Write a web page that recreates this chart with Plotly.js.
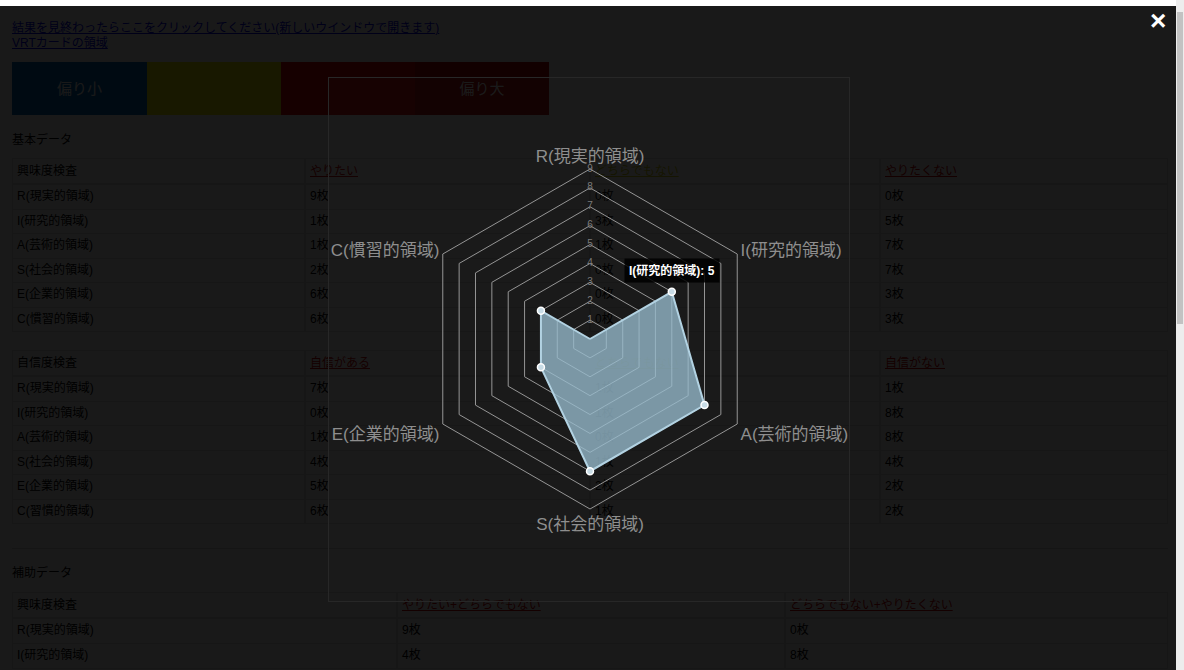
<!DOCTYPE html>
<html><head><meta charset="utf-8">
<script src="https://cdn.plot.ly/plotly-3.0.1.min.js"></script>
<style>
body{margin:0;width:1184px;height:670px;overflow:hidden;background:#fff;position:relative;font-family:"Liberation Sans","Noto Sans CJK JP",sans-serif;}
#page{position:absolute;left:0;top:0;width:1176px;height:670px;background:#fff;font-size:12px;color:#000;}
.abs{position:absolute;white-space:nowrap;}
.lnk{color:#0000ee;text-decoration:underline;}
.hl{color:#cc0000;text-decoration:underline;}
.hy{color:#c8c800;text-decoration:underline;}
.cell{position:absolute;box-sizing:border-box;border:1px solid #e2e2e2;padding-left:4px;line-height:23px;white-space:nowrap;}
#overlay{position:absolute;left:0;top:6px;width:1176px;height:664px;background:rgba(0,0,0,0.9);}
#modal{position:absolute;left:328px;top:77px;width:522px;height:525px;box-sizing:border-box;border:1px solid #272727;background:rgba(255,255,255,0.008);}
#close{position:absolute;left:1150px;top:6px;color:#fff;font-weight:bold;font-size:28px;line-height:30px;}
#sb{position:absolute;left:1176px;top:0;width:8px;height:670px;background:#ededed;}
#thumb{position:absolute;left:1177px;top:12px;width:6px;height:312px;background:#c2c2c2;}
#chart{position:absolute;left:0;top:0;width:1184px;height:670px;}
</style></head>
<body>
<div id="page">
  <div class="abs lnk" style="left:12px;top:18px;">結果を見終わったらここをクリックしてください(新しいウインドウで開きます)</div>
  <div class="abs lnk" style="left:12px;top:33px;">VRTカードの領域</div>
  <div class="abs" style="left:12px;top:62px;width:135px;height:53px;background:#0068b8;color:#fff;font-size:15px;line-height:53px;text-align:center;">偏り小</div>
  <div class="abs" style="left:147px;top:62px;width:134px;height:53px;background:#f0f000;"></div>
  <div class="abs" style="left:281px;top:62px;width:134px;height:53px;background:#e00000;"></div>
  <div class="abs" style="left:415px;top:62px;width:134px;height:53px;background:#b40000;color:#fff;font-size:15px;line-height:53px;text-align:center;">偏り大</div>
  <div class="abs" style="left:12px;top:130px;">基本データ</div>
  <div id="t1"></div>
  <div id="t2"></div>
  <div class="abs" style="left:12px;top:548px;width:1156px;height:1px;background:#cfcfcf;"></div>
  <div class="abs" style="left:12px;top:563px;">補助データ</div>
  <div id="t3"></div>
</div>
<div id="overlay"></div>
<div id="modal"></div>
<div id="close">×</div>
<div id="sb"></div><div id="thumb"></div>
<div id="chart"></div>
<script>
// ---- chart data ----
const categories = ['R(現実的領域)','I(研究的領域)','A(芸術的領域)','S(社会的領域)','E(企業的領域)','C(慣習的領域)'];
const values = [0, 5, 7, 7, 3, 3];
const radialTicks = [1, 2, 3, 4, 5, 6, 7, 8, 9];
const radialMax = 9;
const tooltipIndex = 1;

// ---- background page table data ----
const interestHead = ['興味度検査', 'やりたい', 'どちらでもない', 'やりたくない'];
const interestRows = ['R(現実的領域)','I(研究的領域)','A(芸術的領域)','S(社会的領域)','E(企業的領域)','C(慣習的領域)'];
const wantCounts = [9, 1, 1, 2, 6, 6];
const neutralCounts = [0, 3, 1, 0, 0, 0];
const notWantCounts = [0, 5, 7, 7, 3, 3];
const confHead = ['自信度検査', '自信がある', 'どちらでもない', '自信がない'];
const confRows = ['R(現実的領域)','I(研究的領域)','A(芸術的領域)','S(社会的領域)','E(企業的領域)','C(習慣的領域)'];
const confCounts = [7, 0, 1, 4, 5, 6];
const confNeutral = [1, 1, 0, 1, 2, 1];
const noConfCounts = [1, 8, 8, 4, 2, 2];
const auxHead = ['興味度検査', 'やりたい+どちらでもない', 'どちらでもない+やりたくない'];
const auxRows = ['R(現実的領域)', 'I(研究的領域)'];
const auxA = [9, 4];
const auxB = [0, 8];

function buildTable(id, top, cols, head, headCls, rows, rowH) {
  const el = document.getElementById(id);
  let html = '';
  const hH = 26;
  for (let c = 0; c < head.length; c++) {
    const w = cols[c + 1] - cols[c];
    html += '<div class="cell" style="left:' + cols[c] + 'px;top:' + top + 'px;width:' + w + 'px;height:' + hH + 'px;line-height:25px;"><span class="' + headCls[c] + '">' + head[c] + '</span></div>';
  }
  for (let r = 0; r < rows.length; r++) {
    const y = top + hH + r * rowH;
    for (let c = 0; c < rows[r].length; c++) {
      const w = cols[c + 1] - cols[c];
      html += '<div class="cell" style="left:' + cols[c] + 'px;top:' + y + 'px;width:' + w + 'px;height:' + (rowH + 1) + 'px;">' + rows[r][c] + '</div>';
    }
  }
  el.innerHTML = html;
}
const cols4 = [12, 305, 590, 880, 1168];
buildTable('t1', 158, cols4, interestHead, ['', 'hl', 'hy', 'hl'],
  interestRows.map((l, i) => [l, wantCounts[i] + '枚', neutralCounts[i] + '枚', notWantCounts[i] + '枚']), 24.5);
buildTable('t2', 350, cols4, confHead, ['', 'hl', 'hy', 'hl'],
  confRows.map((l, i) => [l, confCounts[i] + '枚', confNeutral[i] + '枚', noConfCounts[i] + '枚']), 24.5);
buildTable('t3', 592, [12, 397, 785, 1168], auxHead, ['', 'hl', 'hl'],
  auxRows.map((l, i) => [l, auxA[i] + '枚', auxB[i] + '枚']), 25);

// ---- radar chart ----
const W = 1184, H = 670;
const cx = 590, cy = 339, R = 170;
const font = 'Liberation Sans, Noto Sans CJK JP, sans-serif';

const trace = {
  type: 'scatterpolar',
  r: values.concat([values[0]]),
  theta: categories.concat([categories[0]]),
  mode: 'lines+markers',
  fill: 'toself',
  fillcolor: 'rgba(151,187,205,0.78)',
  line: {color: 'rgba(178,210,226,1)', width: 2},
  marker: {size: 7, color: 'rgba(200,220,230,1)', line: {color: '#ffffff', width: 1.5}},
  hoverinfo: 'skip'
};
const tickTrace = {
  type: 'scatterpolar',
  r: radialTicks,
  theta: radialTicks.map(() => categories[0]),
  mode: 'text',
  text: radialTicks.map(String),
  textposition: 'middle center',
  textfont: {size: 10, color: '#7c7c7c', family: font},
  hoverinfo: 'skip'
};

// tooltip anchored at the data point (computed from the value through the same polar geometry)
const ang = (90 - tooltipIndex * 360 / categories.length) * Math.PI / 180;
const rp = values[tooltipIndex] / radialMax * R;
const tx = (cx + rp * Math.cos(ang)) / W;
const ty = (H - (cy - rp * Math.sin(ang))) / H;

const layout = {
  width: W, height: H,
  margin: {l: 0, r: 0, t: 0, b: 0},
  paper_bgcolor: 'rgba(0,0,0,0)',
  plot_bgcolor: 'rgba(0,0,0,0)',
  showlegend: false,
  font: {family: font},
  polar: {
    domain: {x: [(cx - R) / W, (cx + R) / W], y: [(H - cy - R) / H, (H - cy + R) / H]},
    bgcolor: 'rgba(0,0,0,0)',
    gridshape: 'linear',
    radialaxis: {
      range: [0, radialMax], tickvals: radialTicks, showticklabels: false, ticks: '',
      showline: false, gridcolor: '#959595', gridwidth: 1, angle: 90
    },
    angularaxis: {
      rotation: 90, direction: 'clockwise', showgrid: false, ticks: '',
      showline: true, linecolor: '#959595', linewidth: 1,
      tickfont: {size: 17, color: '#8e8e8e', family: font}
    }
  },
  annotations: [{
    xref: 'paper', yref: 'paper', x: tx, y: ty,
    xanchor: 'center', yanchor: 'bottom', yshift: 9,
    text: '<b>' + categories[tooltipIndex] + ': ' + values[tooltipIndex] + '</b>',
    showarrow: false, bgcolor: 'rgba(0,0,0,0.85)', borderpad: 4,
    font: {color: '#ffffff', size: 12, family: font}
  }]
};
Plotly.newPlot('chart', [tickTrace, trace], layout, {displayModeBar: false, staticPlot: true});
</script>
</body></html>
